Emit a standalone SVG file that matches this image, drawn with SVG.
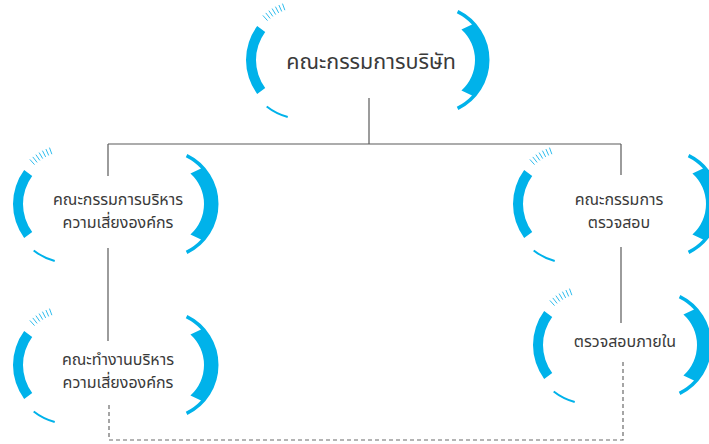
<svg xmlns="http://www.w3.org/2000/svg" xmlns:xlink="http://www.w3.org/1999/xlink" width="709" height="444" viewBox="0 0 709 444">
<style>
.band{fill:#00b2ea;}
.thin{fill:none;stroke:#00b2ea;stroke-width:2;}
.tick{fill:none;stroke:#2fbdee;stroke-width:1;}
.ln{fill:none;stroke:#5a5a5a;stroke-width:1.2;}
.dash{fill:none;stroke:#6a6a6a;stroke-width:1.2;stroke-dasharray:4 3;}
.t{font-family:"Noto Sans Thai","Noto Sans","Liberation Sans",sans-serif;fill:#3a3a3a;text-anchor:middle;}
.t20{font-size:21.5px;}
.t16{font-size:16px;}
</style>
<defs>
<g id="decoL">
<path class="band" d="M -45.82 -33.90 A 57 57 0 0 0 -45.82 33.90 L -37.78 27.96 A 47 47 0 0 1 -37.78 -27.96 Z"/>
<path class="thin" d="M -36.32 46.49 A 59 59 0 0 0 -15.27 56.99"/>
<path class="tick" d="M -35.46 -39.38 L -40.15 -44.59 M -32.88 -41.57 L -37.22 -47.07 M -30.15 -43.59 L -34.13 -49.35 M -27.30 -45.43 L -30.90 -51.43 M -24.33 -47.09 L -27.55 -53.30 M -21.27 -48.54 L -24.08 -54.95 M -18.13 -49.80 L -20.52 -56.38"/>
</g>
<g id="decoR">
<path class="band" d="M 24.33 -49.88 A 55.5 55.5 0 0 1 24.33 49.88 L 22.80 46.74 A 52 52 0 0 0 38.03 35.46 L 27.43 30.47 A 41 41 0 0 0 27.43 -30.47 L 38.03 -35.46 A 52 52 0 0 0 22.80 -46.74 Z"/>
</g>
</defs>
<rect width="709" height="444" fill="#ffffff"/>
<g id="connectors">
<path class="ln" d="M 369 98 L 369 144"/>
<path class="ln" d="M 108 144 L 621 144"/>
<path class="ln" d="M 108 144 L 108 176 M 108 248 L 108 341"/>
<path class="ln" d="M 621 144 L 621 175 M 621 247 L 621 323"/>
<path class="dash" d="M 109 405 L 109 440 L 623 440 L 623 359"/>
</g>
<g id="node-board">
<use xlink:href="#decoL" href="#decoL" transform="translate(303 60)"/>
<use xlink:href="#decoR" href="#decoR" transform="translate(434 60)"/>
<text class="t t20" x="371" y="69">คณะกรรมการบริษัท</text>
</g>
<g id="node-risk-committee">
<use xlink:href="#decoL" href="#decoL" transform="translate(70 204)"/>
<use xlink:href="#decoR" href="#decoR" transform="translate(163 204)"/>
<text class="t t16" x="118" y="205">คณะกรรมการบริหาร</text>
<text class="t t16" x="118" y="228">ความเสี่ยงองค์กร</text>
</g>
<g id="node-audit-committee">
<use xlink:href="#decoL" href="#decoL" transform="translate(570 204)"/>
<use xlink:href="#decoR" href="#decoR" transform="translate(665 204)"/>
<text class="t t16" x="619" y="205">คณะกรรมการ</text>
<text class="t t16" x="619" y="228">ตรวจสอบ</text>
</g>
<g id="node-risk-working">
<use xlink:href="#decoL" href="#decoL" transform="translate(70 365)"/>
<use xlink:href="#decoR" href="#decoR" transform="translate(163 365)"/>
<text class="t t16" x="118" y="365">คณะทำงานบริหาร</text>
<text class="t t16" x="118" y="388">ความเสี่ยงองค์กร</text>
</g>
<g id="node-internal-audit">
<use xlink:href="#decoL" href="#decoL" transform="translate(590 345)"/>
<use xlink:href="#decoR" href="#decoR" transform="translate(656 345)"/>
<text class="t t16" x="625" y="347">ตรวจสอบภายใน</text>
</g>
</svg>
